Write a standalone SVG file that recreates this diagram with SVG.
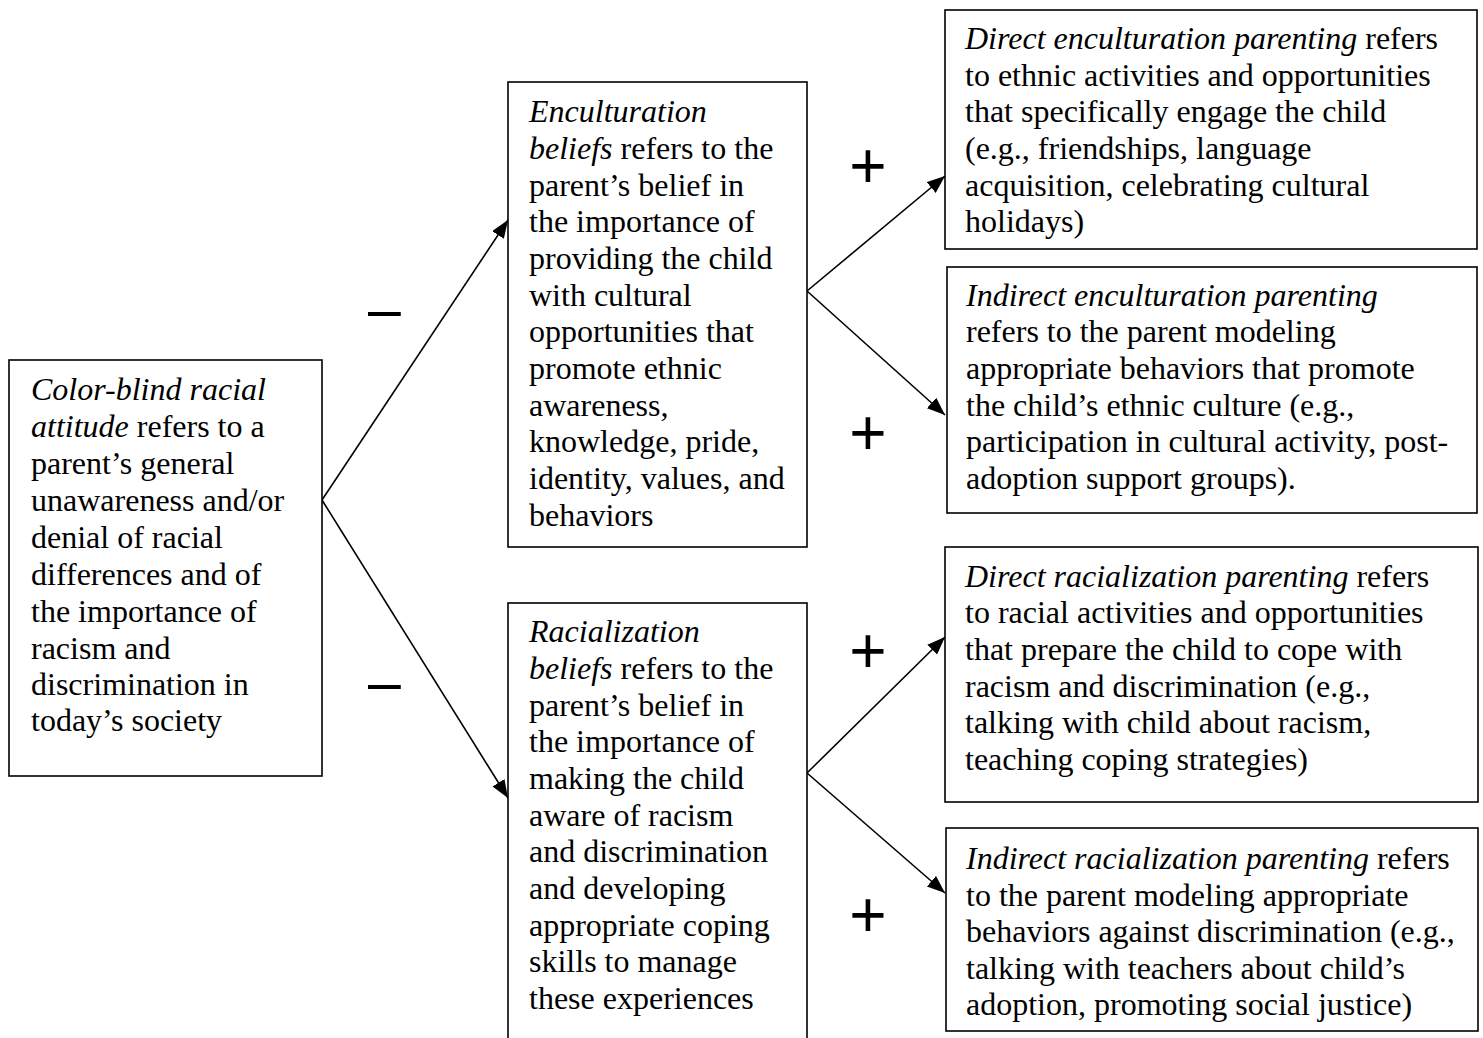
<svg xmlns="http://www.w3.org/2000/svg" width="1483" height="1038" viewBox="0 0 1483 1038">
<style>
.box{fill:#fff;stroke:#000;stroke-width:1.6}
.t{font-family:"Liberation Serif","Times New Roman",serif;font-size:32px;fill:#000}
.i{font-style:italic}
.edge{stroke:#000;stroke-width:1.6;fill:none}
.sign{font-family:"Liberation Sans",Arial,sans-serif;fill:#000}
</style>
<defs>
<marker id="ah" markerUnits="userSpaceOnUse" markerWidth="19" markerHeight="15" refX="18" refY="7" orient="auto">
<path d="M0,0 L18,7 L0,14 z" fill="#000"/>
</marker>
</defs>
<rect width="1483" height="1038" fill="#fff"/>
<g id="connectors">
<line class="edge" x1="322" y1="500" x2="508" y2="220" marker-end="url(#ah)"/>
<line class="edge" x1="322" y1="500" x2="508" y2="798" marker-end="url(#ah)"/>
<line class="edge" x1="807" y1="291" x2="945" y2="176" marker-end="url(#ah)"/>
<line class="edge" x1="807" y1="291" x2="945" y2="415" marker-end="url(#ah)"/>
<line class="edge" x1="807" y1="773" x2="945" y2="637" marker-end="url(#ah)"/>
<line class="edge" x1="807" y1="773" x2="945" y2="893" marker-end="url(#ah)"/>
<text class="sign" x="368" y="329" font-size="59">–</text>
<text class="sign" x="368" y="702" font-size="59">–</text>
<text class="sign" x="868" y="188" font-size="64" text-anchor="middle">+</text>
<text class="sign" x="868" y="455" font-size="64" text-anchor="middle">+</text>
<text class="sign" x="868" y="673" font-size="64" text-anchor="middle">+</text>
<text class="sign" x="868" y="937" font-size="64" text-anchor="middle">+</text>
</g>
<g id="colorblind">
<rect class="box" x="9" y="360" width="313" height="416"/>
<text class="t">
<tspan x="31" y="400" class="i">Color-blind racial</tspan>
<tspan x="31" y="437"><tspan class="i">attitude</tspan> refers to a</tspan>
<tspan x="31" y="474">parent’s general</tspan>
<tspan x="31" y="511">unawareness and/or</tspan>
<tspan x="31" y="548">denial of racial</tspan>
<tspan x="31" y="585">differences and of</tspan>
<tspan x="31" y="622">the importance of</tspan>
<tspan x="31" y="659">racism and</tspan>
<tspan x="31" y="695">discrimination in</tspan>
<tspan x="31" y="731">today’s society</tspan>
</text>
</g>
<g id="enculturation">
<rect class="box" x="508" y="82" width="299" height="465"/>
<text class="t">
<tspan x="529" y="122" class="i">Enculturation</tspan>
<tspan x="529" y="159"><tspan class="i">beliefs</tspan> refers to the</tspan>
<tspan x="529" y="196">parent’s belief in</tspan>
<tspan x="529" y="232">the importance of</tspan>
<tspan x="529" y="269">providing the child</tspan>
<tspan x="529" y="306">with cultural</tspan>
<tspan x="529" y="342">opportunities that</tspan>
<tspan x="529" y="379">promote ethnic</tspan>
<tspan x="529" y="416">awareness,</tspan>
<tspan x="529" y="452">knowledge, pride,</tspan>
<tspan x="529" y="489">identity, values, and</tspan>
<tspan x="529" y="526">behaviors</tspan>
</text>
</g>
<g id="racialization">
<rect class="box" x="508" y="603" width="299" height="450"/>
<text class="t">
<tspan x="529" y="642" class="i">Racialization</tspan>
<tspan x="529" y="679"><tspan class="i">beliefs</tspan> refers to the</tspan>
<tspan x="529" y="716">parent’s belief in</tspan>
<tspan x="529" y="752">the importance of</tspan>
<tspan x="529" y="789">making the child</tspan>
<tspan x="529" y="826">aware of racism</tspan>
<tspan x="529" y="862">and discrimination</tspan>
<tspan x="529" y="899">and developing</tspan>
<tspan x="529" y="936">appropriate coping</tspan>
<tspan x="529" y="972">skills to manage</tspan>
<tspan x="529" y="1009">these experiences</tspan>
</text>
</g>
<g id="direct-enculturation">
<rect class="box" x="945" y="10" width="532" height="239"/>
<text class="t">
<tspan x="965" y="49"><tspan class="i">Direct enculturation parenting</tspan> refers</tspan>
<tspan x="965" y="86">to ethnic activities and opportunities</tspan>
<tspan x="965" y="122">that specifically engage the child</tspan>
<tspan x="965" y="159">(e.g., friendships, language</tspan>
<tspan x="965" y="196">acquisition, celebrating cultural</tspan>
<tspan x="965" y="232">holidays)</tspan>
</text>
</g>
<g id="indirect-enculturation">
<rect class="box" x="947" y="267" width="530" height="246"/>
<text class="t">
<tspan x="966" y="306" class="i">Indirect enculturation parenting</tspan>
<tspan x="966" y="342">refers to the parent modeling</tspan>
<tspan x="966" y="379">appropriate behaviors that promote</tspan>
<tspan x="966" y="416">the child’s ethnic culture (e.g.,</tspan>
<tspan x="966" y="452">participation in cultural activity, post-</tspan>
<tspan x="966" y="489">adoption support groups).</tspan>
</text>
</g>
<g id="direct-racialization">
<rect class="box" x="945" y="547" width="533" height="255"/>
<text class="t">
<tspan x="965" y="587"><tspan class="i">Direct racialization parenting</tspan> refers</tspan>
<tspan x="965" y="623">to racial activities and opportunities</tspan>
<tspan x="965" y="660">that prepare the child to cope with</tspan>
<tspan x="965" y="697">racism and discrimination (e.g.,</tspan>
<tspan x="965" y="733">talking with child about racism,</tspan>
<tspan x="965" y="770">teaching coping strategies)</tspan>
</text>
</g>
<g id="indirect-racialization">
<rect class="box" x="946" y="828" width="532" height="203"/>
<text class="t">
<tspan x="966" y="869"><tspan class="i">Indirect racialization parenting</tspan> refers</tspan>
<tspan x="966" y="906">to the parent modeling appropriate</tspan>
<tspan x="966" y="942">behaviors against discrimination (e.g.,</tspan>
<tspan x="966" y="979">talking with teachers about child’s</tspan>
<tspan x="966" y="1015">adoption, promoting social justice)</tspan>
</text>
</g>
</svg>
